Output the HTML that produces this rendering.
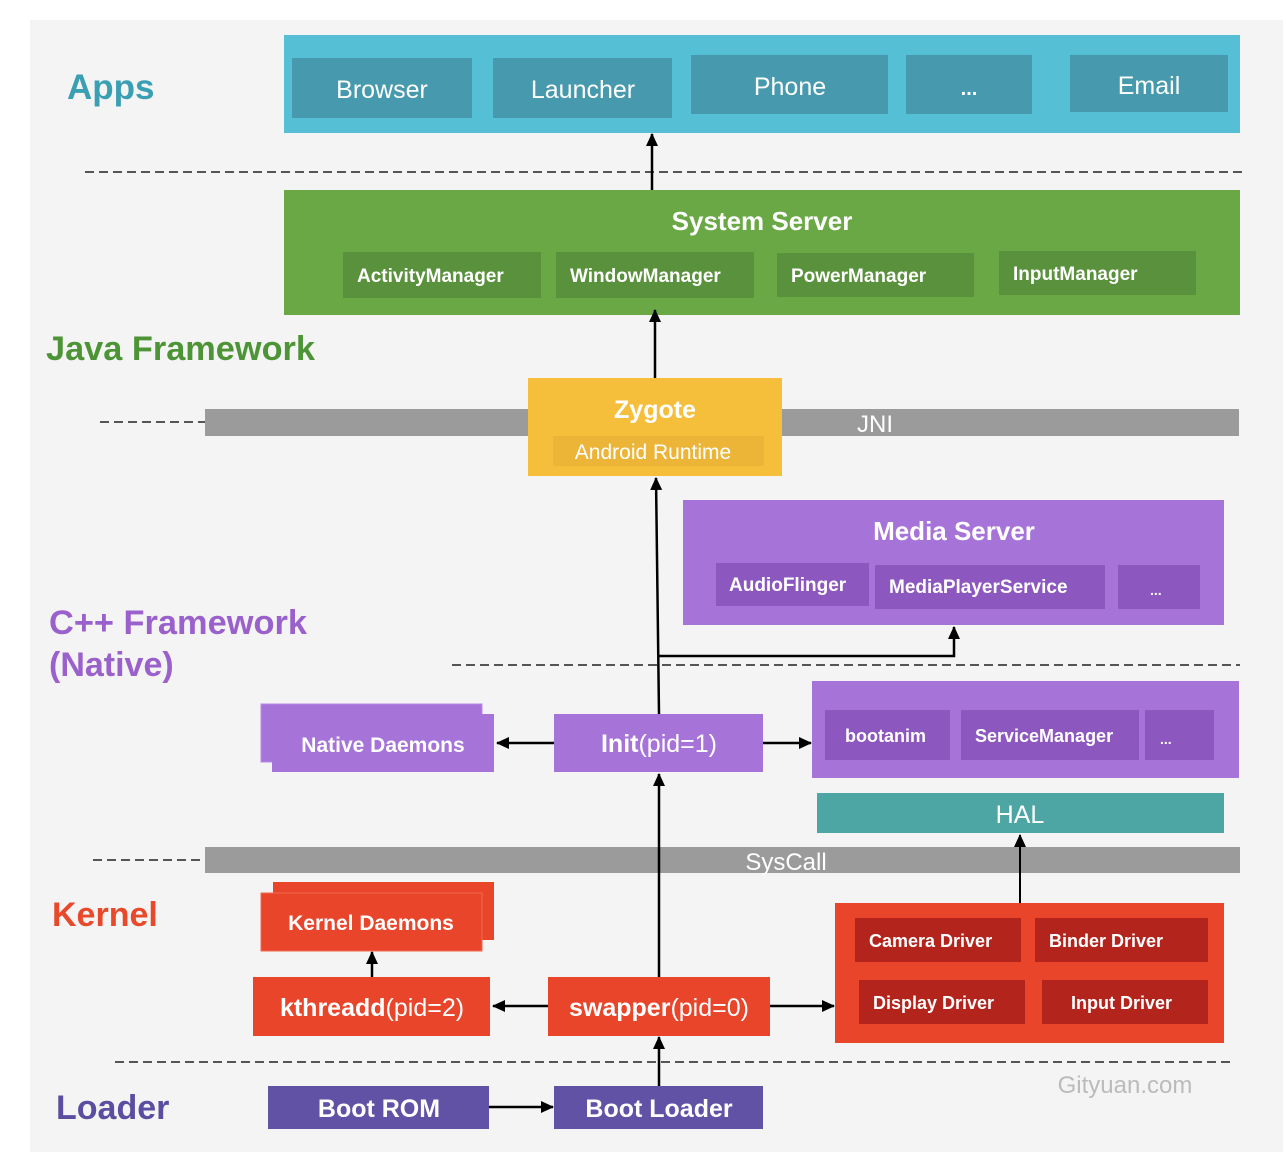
<!DOCTYPE html>
<html><head><meta charset="utf-8"><style>
html,body{margin:0;padding:0;background:#fff;}
svg{display:block}
text{font-family:"Liberation Sans",sans-serif;}
</style></head><body>
<svg width="1286" height="1168" viewBox="0 0 1286 1168" xmlns="http://www.w3.org/2000/svg">
<defs>
<marker id="a" markerWidth="14" markerHeight="14" refX="12" refY="6" orient="auto" markerUnits="userSpaceOnUse"><path d="M0,0 L13,6 L0,12 z" fill="#000"/></marker>
</defs>
<rect x="30" y="20" width="1253" height="1132" fill="#f4f4f4"/>
<g stroke="#555" stroke-width="2" stroke-dasharray="9,5" fill="none">
<line x1="85" y1="172" x2="1243" y2="172"/>
<line x1="100" y1="422" x2="205" y2="422"/>
<line x1="452" y1="665" x2="1240" y2="665"/>
<line x1="93" y1="860" x2="205" y2="860"/>
<line x1="115" y1="1062" x2="1232" y2="1062"/>
</g>
<g font-weight="bold">
<text x="67" y="99" font-size="35" fill="#3a9fb3">Apps</text>
<text x="46" y="360" font-size="34" fill="#4d9436" textLength="269" lengthAdjust="spacingAndGlyphs">Java Framework</text>
<text x="49" y="634" font-size="34" fill="#9a60cc" textLength="258" lengthAdjust="spacingAndGlyphs">C++ Framework</text>
<text x="49" y="676" font-size="34" fill="#9a60cc">(Native)</text>
<text x="52" y="926" font-size="34" fill="#e8492a">Kernel</text>
<text x="56" y="1119" font-size="34" fill="#5b4da0">Loader</text>
</g>
<rect x="284" y="35" width="956" height="98" fill="#55bfd6"/>
<g fill="#4799ad">
<rect x="292" y="58" width="180" height="60"/><rect x="493" y="58" width="179" height="60"/>
<rect x="691" y="55" width="197" height="59"/><rect x="906" y="55" width="126" height="59"/>
<rect x="1070" y="55" width="158" height="57"/></g>
<g fill="#fff" font-size="25" text-anchor="middle">
<text x="382" y="98">Browser</text><text x="583" y="98">Launcher</text>
<text x="790" y="95">Phone</text><text x="969" y="95" font-weight="bold" font-size="20">...</text>
<text x="1149" y="94">Email</text></g>
<rect x="284" y="190" width="956" height="125" fill="#6aa846"/>
<text x="762" y="230" fill="#fff" font-size="26" font-weight="bold" text-anchor="middle">System Server</text>
<g fill="#5a913c">
<rect x="343" y="252" width="198" height="46"/><rect x="556" y="252" width="198" height="46"/>
<rect x="777" y="253" width="197" height="44"/><rect x="999" y="251" width="197" height="44"/></g>
<g fill="#fff" font-size="19" font-weight="bold">
<text x="357" y="282">ActivityManager</text><text x="570" y="282">WindowManager</text>
<text x="791" y="282">PowerManager</text><text x="1013" y="280">InputManager</text></g>
<rect x="205" y="409" width="1034" height="27" fill="#9b9b9b"/>
<text x="875" y="432" fill="#fff" font-size="24" text-anchor="middle">JNI</text>
<rect x="528" y="378" width="254" height="98" fill="#f5be3b"/>
<rect x="553" y="436" width="211" height="30" fill="#ecb538"/>
<text x="655" y="418" fill="#fff" font-size="25" font-weight="bold" text-anchor="middle">Zygote</text>
<text x="653" y="459" fill="#fff" font-size="21" text-anchor="middle">Android Runtime</text>
<rect x="683" y="500" width="541" height="125" fill="#a673d8"/>
<text x="954" y="540" fill="#fff" font-size="26" font-weight="bold" text-anchor="middle">Media Server</text>
<g fill="#8c58c0"><rect x="716" y="563" width="153" height="43"/><rect x="875" y="565" width="230" height="44"/><rect x="1118" y="565" width="82" height="44"/></g>
<g fill="#fff" font-size="19" font-weight="bold">
<text x="729" y="591">AudioFlinger</text><text x="889" y="593">MediaPlayerService</text><text x="1150" y="595" font-size="14">...</text></g>
<rect x="261" y="704" width="221" height="58" fill="#a673d8" stroke="#b98ae3" stroke-width="1"/>
<rect x="272" y="714" width="222" height="58" fill="#a673d8"/>
<text x="383" y="752" fill="#fff" font-size="21" font-weight="bold" text-anchor="middle">Native Daemons</text>
<rect x="554" y="714" width="209" height="58" fill="#a673d8"/>
<text x="659" y="752" fill="#fff" font-size="25" text-anchor="middle"><tspan font-weight="bold">Init</tspan>(pid=1)</text>
<rect x="812" y="681" width="427" height="97" fill="#a673d8"/>
<g fill="#8c58c0"><rect x="825" y="710" width="125" height="50"/><rect x="961" y="710" width="178" height="50"/><rect x="1145" y="710" width="69" height="50"/></g>
<g fill="#fff" font-size="18" font-weight="bold">
<text x="845" y="742">bootanim</text><text x="975" y="742">ServiceManager</text><text x="1160" y="744" font-size="14">...</text></g>
<rect x="817" y="793" width="407" height="40" fill="#4da6a4"/>
<text x="1020" y="823" fill="#fff" font-size="25" text-anchor="middle">HAL</text>
<rect x="205" y="847" width="1035" height="26" fill="#9b9b9b"/>
<text x="786" y="870" fill="#fff" font-size="24" text-anchor="middle">SysCall</text>
<rect x="273" y="882" width="221" height="58" fill="#e8452b"/>
<rect x="261" y="893" width="221" height="58" fill="#e8452b" stroke="#f06a50" stroke-width="1"/>
<text x="371" y="930" fill="#fff" font-size="21" font-weight="bold" text-anchor="middle">Kernel Daemons</text>
<rect x="253" y="977" width="237" height="59" fill="#e8452b"/>
<text x="372" y="1016" fill="#fff" font-size="25" text-anchor="middle"><tspan font-weight="bold">kthreadd</tspan>(pid=2)</text>
<rect x="548" y="977" width="222" height="59" fill="#e8452b"/>
<text x="659" y="1016" fill="#fff" font-size="25" text-anchor="middle"><tspan font-weight="bold">swapper</tspan>(pid=0)</text>
<rect x="835" y="903" width="389" height="140" fill="#e8452b"/>
<g fill="#b3241c"><rect x="855" y="918" width="166" height="44"/><rect x="1035" y="918" width="173" height="44"/><rect x="859" y="980" width="166" height="44"/><rect x="1042" y="980" width="166" height="44"/></g>
<g fill="#fff" font-size="18" font-weight="bold">
<text x="869" y="947">Camera Driver</text><text x="1049" y="947">Binder Driver</text>
<text x="873" y="1009">Display Driver</text><text x="1071" y="1009">Input Driver</text></g>
<rect x="268" y="1086" width="221" height="43" fill="#6152a6"/>
<rect x="554" y="1086" width="209" height="43" fill="#6152a6"/>
<g fill="#fff" font-size="25" font-weight="bold" text-anchor="middle">
<text x="379" y="1117">Boot ROM</text><text x="659" y="1117">Boot Loader</text></g>
<text x="1125" y="1093" fill="#bbb" font-size="24" text-anchor="middle">Gityuan.com</text>
<g stroke="#000" stroke-width="2.5" fill="none" marker-end="url(#a)">
<line x1="652" y1="190" x2="652" y2="134"/>
<line x1="655" y1="378" x2="655" y2="310"/>
<line x1="659" y1="714" x2="656" y2="478"/>
<polyline points="659,656 954,656 954,627"/>
<line x1="554" y1="743" x2="497" y2="743"/>
<line x1="763" y1="743" x2="811" y2="743"/>
<line x1="659" y1="977" x2="659" y2="774"/>
<line x1="1020" y1="903" x2="1020" y2="835" stroke-width="2"/>
<line x1="372" y1="977" x2="372" y2="952"/>
<line x1="548" y1="1006" x2="493" y2="1006"/>
<line x1="770" y1="1006" x2="834" y2="1006"/>
<line x1="659" y1="1086" x2="659" y2="1037"/>
<line x1="489" y1="1107" x2="553" y2="1107"/>
</g>
</svg>
</body></html>
